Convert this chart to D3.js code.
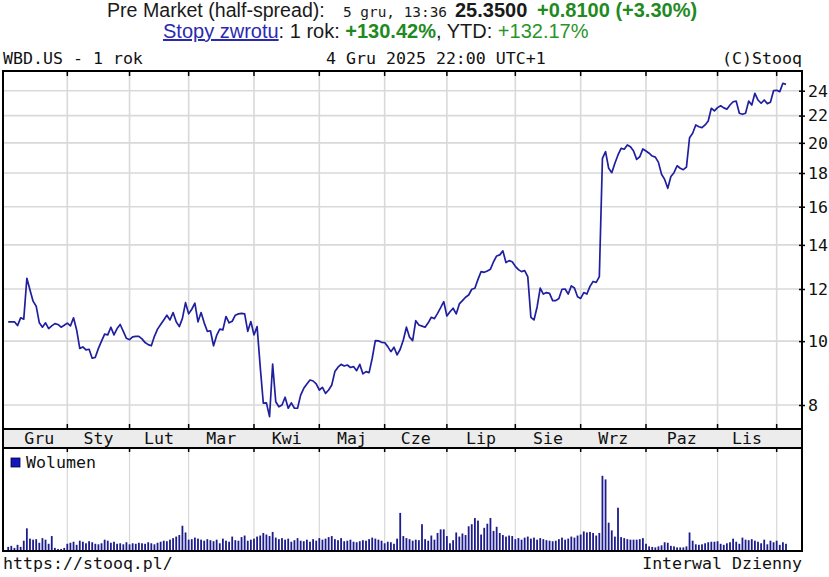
<!DOCTYPE html>
<html>
<head>
<meta charset="utf-8">
<script src="https://cdn.jsdelivr.net/npm/d3@7"></script>
<style>
  body { margin: 0; background: #fff; }
  svg text { font-family: "DejaVu Sans Mono", monospace; fill: #111; }
  .hdr { font-family: "Liberation Sans", Arial, sans-serif; }
</style>
</head>
<body>
<div id="chart"></div>
<script>
/*******************************/
/*            Data             */
/*******************************/

// daily close, 4 Dec 2024 .. 4 Dec 2025 (one value per session)
var closes = [
  10.70, 10.70, 10.70, 10.56, 10.85, 10.80, 12.46, 11.96, 11.50, 11.30,
  10.66, 10.50, 10.66, 10.45, 10.55, 10.63, 10.60, 10.50, 10.57, 10.65,
  10.55, 10.85, 10.40, 9.75, 9.80, 9.70, 9.72, 9.42, 9.45, 9.75,
  10.00, 10.25, 10.22, 10.50, 10.22, 10.45, 10.60, 10.35, 10.10, 10.05,
  10.15, 10.17, 10.17, 10.08, 9.95, 9.88, 9.84, 10.17, 10.43, 10.60,
  10.77, 10.95, 10.77, 11.05, 10.70, 10.52, 10.83, 11.44, 11.00, 11.18,
  11.42, 10.70, 11.05, 10.66, 10.35, 10.37, 9.84, 10.20, 10.43, 10.40,
  10.90, 10.66, 10.72, 10.95, 11.00, 11.02, 11.00, 10.35, 10.71, 10.22,
  10.52, 9.15, 8.05, 8.06, 7.68, 9.23, 8.09, 7.95, 8.00, 8.22,
  7.91, 8.06, 7.91, 7.91, 8.28, 8.48, 8.61, 8.73, 8.70, 8.61,
  8.43, 8.51, 8.33, 8.43, 8.58, 8.99, 9.13, 9.22, 9.17, 9.20,
  9.12, 9.15, 9.02, 9.22, 8.92, 8.99, 8.96, 9.42, 10.02, 10.01,
  9.96, 9.95, 9.81, 9.64, 9.79, 9.53, 9.72, 10.04, 10.50, 10.14,
  10.02, 10.74, 10.58, 10.54, 10.50, 10.66, 10.87, 10.82, 11.02, 11.24,
  11.48, 10.92, 11.08, 11.22, 11.00, 11.39, 11.52, 11.66, 11.75, 11.99,
  12.03, 12.41, 12.75, 12.72, 12.78, 12.86, 13.20, 13.47, 13.52, 13.71,
  13.16, 13.25, 13.20, 12.99, 12.84, 12.75, 12.80, 12.53, 10.87, 10.77,
  11.27, 12.04, 11.79, 11.85, 11.82, 11.52, 11.52, 11.61, 11.99, 12.00,
  11.79, 12.13, 12.04, 11.68, 11.61, 11.85, 11.79, 12.11, 12.32, 12.28,
  12.53, 18.95, 19.39, 18.30, 18.02, 18.62, 19.17, 19.62, 19.56, 19.85,
  19.73, 19.44, 18.88, 19.05, 19.58, 19.44, 19.29, 19.10, 19.03, 18.68,
  17.92, 17.60, 17.06, 17.78, 18.02, 18.46, 18.30, 18.21, 18.37, 20.36,
  20.68, 21.29, 21.16, 21.09, 21.29, 21.59, 22.57, 22.36, 22.62, 22.77,
  22.60, 22.50, 22.83, 23.09, 23.14, 22.18, 22.10, 22.18, 23.14, 22.83,
  23.78, 23.23, 22.97, 23.23, 22.94, 23.05, 24.00, 24.03, 23.92, 24.63,
  24.54
];

// daily volume, millions
var volumes = [
  16, 20, 12, 24, 16, 40, 88, 48, 44, 46, 32, 50, 44, 28, 58, 12, 8, 8, 12,
  28, 32, 36, 24, 40, 36, 30, 38, 34, 28, 26, 30, 44, 40, 32, 36, 28, 30, 26, 34,
  26, 30, 28, 32, 30, 28, 34, 30, 26, 32, 36, 40, 38, 44, 50, 56, 62, 98, 72,
  44, 46, 52, 48, 44, 40, 46, 42, 38, 44, 30, 48, 40, 36, 56, 42, 40, 54, 60, 40, 44,
  48, 56, 60, 70, 64, 58, 74, 52, 46, 50, 44, 48, 36, 42, 50, 40, 38, 44, 36, 46, 40,
  50, 44, 48, 54, 58, 46, 42, 50, 38, 40, 44, 36, 34, 38, 42, 40, 46, 52, 48, 44, 40,
  30, 36, 34, 28, 48, 148, 58, 50, 46, 40, 44, 42, 104, 46, 40, 60, 44, 70, 84, 84,
  58, 30, 42, 72, 56, 68, 62, 96, 104, 128, 118, 64, 90, 106, 128, 78, 94, 70, 62, 56, 60, 58,
  46, 50, 44, 52, 56, 48, 52, 44, 50, 46, 42, 40, 38, 40, 46, 52, 44, 48, 56, 52, 60,
  64, 76, 72, 74, 70, 60, 70, 292, 278, 110, 80, 56, 168, 54, 50, 46, 44, 44, 44, 46, 50,
  28, 18, 16, 14, 18, 22, 34, 32, 20, 18, 14, 14, 14, 18, 72, 40, 26, 24, 26, 30, 34, 36, 36,
  38, 28, 24, 30, 34, 48, 36, 28, 52, 44, 42, 46, 40, 36, 30, 44, 26, 40, 34,
  40, 24, 34, 28
];

// session index where each month begins (Sty .. Gru 2025)
var monthStarts = [19, 39, 58, 79, 100, 121, 141, 163, 184, 205, 228, 247];
var monthLabels = ["Gru", "Sty", "Lut", "Mar", "Kwi", "Maj", "Cze", "Lip", "Sie", "Wrz", "Paz", "Lis"];
var priceTicks  = [8, 10, 12, 14, 16, 18, 20, 22, 24];

/*******************************/
/*          Layout             */
/*******************************/

var width = 829, height = 577;
var left = 3, right = 802;
var priceTop = 71, priceBottom = 429, bandBottom = 448, volBottom = 551;

var x = d3.scaleLinear()
  .domain([0, closes.length - 1])
  .range([8.2, 786]);

var y = d3.scaleLog()
  .domain([7.356, 25.71])
  .range([priceBottom, priceTop]);

var yVol = d3.scaleLinear()
  .domain([0, 400])
  .range([volBottom, bandBottom]);

var svg = d3.select("#chart").append("svg")
  .attr("width", width)
  .attr("height", height);

/*******************************/
/*           Header            */
/*******************************/

var h1 = svg.append("text").attr("class", "hdr").attr("y", 17);
h1.append("tspan").attr("x", 107).style("font-size", "19.6px").style("fill", "#1a1a1a")
  .text("Pre Market (half-spread):");
h1.append("tspan").attr("x", 343).style("font-family", "DejaVu Sans Mono, monospace")
  .style("font-size", "14.4px").style("fill", "#1a1a1a").text("5 gru, 13:36");
h1.append("tspan").attr("x", 455).style("font-size", "20px").style("font-weight", "bold")
  .style("fill", "#1a1a1a").text("25.3500");
h1.append("tspan").attr("x", 537).style("font-size", "20px").style("font-weight", "bold")
  .style("fill", "#1f8a1f").text("+0.8100 (+3.30%)");

var h2 = svg.append("text").attr("class", "hdr").attr("x", 163).attr("y", 38)
  .style("font-size", "20px");
h2.append("tspan").style("fill", "#2a2ab0").style("text-decoration", "underline").text("Stopy zwrotu");
h2.append("tspan").style("fill", "#1a1a1a").text(": 1 rok: ");
h2.append("tspan").style("fill", "#1f8a1f").style("font-weight", "bold").text("+130.42%");
h2.append("tspan").style("fill", "#1a1a1a").text(", YTD: ");
h2.append("tspan").style("fill", "#2a942a").text("+132.17%");

svg.append("text").attr("x", left).attr("y", 64).style("font-size", "16.6px").text("WBD.US - 1 rok");
svg.append("text").attr("x", 326).attr("y", 64).style("font-size", "16.6px").text("4 Gru 2025 22:00 UTC+1");
svg.append("text").attr("x", right).attr("y", 64).attr("text-anchor", "end")
  .style("font-size", "16.6px").text("(C)Stooq");

/*******************************/
/*          Gridlines          */
/*******************************/

var grid = svg.append("g").attr("stroke", "#d9d9d9").attr("stroke-width", 1.6);

grid.selectAll(".hgrid")
  .data(priceTicks)
  .enter()
  .append("line")
  .attr("x1", left).attr("x2", right)
  .attr("y1", function(d) { return y(d); })
  .attr("y2", function(d) { return y(d); });

grid.selectAll(".vgrid")
  .data(monthStarts)
  .enter()
  .append("line")
  .attr("x1", function(d) { return x(d); })
  .attr("x2", function(d) { return x(d); })
  .attr("y1", priceTop).attr("y2", priceBottom);

grid.selectAll(".vgrid-vol")
  .data(monthStarts)
  .enter()
  .append("line")
  .attr("stroke-width", 1.2)
  .attr("x1", function(d) { return x(d); })
  .attr("x2", function(d) { return x(d); })
  .attr("y1", bandBottom).attr("y2", volBottom);

/*******************************/
/*        Price and volume     */
/*******************************/

var line = d3.line()
  .x(function(d, i) { return x(i); })
  .y(function(d) { return y(d); });

svg.append("path")
  .datum(closes)
  .attr("fill", "none")
  .attr("stroke", "#1f1fa0")
  .attr("stroke-width", 1.7)
  .attr("stroke-linejoin", "round")
  .attr("d", line);

svg.append("g")
  .selectAll("rect")
  .data(volumes)
  .enter()
  .append("rect")
  .attr("x", function(d, i) { return x(i) - 0.9; })
  .attr("width", 1.8)
  .attr("y", function(d) { return yVol(d); })
  .attr("height", function(d) { return volBottom - yVol(d); })
  .attr("fill", "#1c1c8c");

// legend
svg.append("rect").attr("x", 11).attr("y", 458).attr("width", 9).attr("height", 9)
  .attr("fill", "#1414c0").attr("stroke", "#000033").attr("stroke-width", 0.8);
svg.append("text").attr("x", 26).attr("y", 468).style("font-size", "16.6px").text("Wolumen");

/*******************************/
/*     Frame and month band    */
/*******************************/

svg.append("rect")
  .attr("x", left).attr("y", priceBottom)
  .attr("width", right - left).attr("height", bandBottom - priceBottom)
  .attr("fill", "#ececec");

svg.append("rect")
  .attr("x", left).attr("y", priceTop)
  .attr("width", right - left).attr("height", volBottom - priceTop)
  .attr("fill", "none").attr("stroke", "#000").attr("stroke-width", 2);

[priceBottom, bandBottom].forEach(function(yy) {
  svg.append("line").attr("x1", left).attr("x2", right).attr("y1", yy).attr("y2", yy)
    .attr("stroke", "#000").attr("stroke-width", 2);
});

var ticks = svg.append("g").attr("stroke", "#000").attr("stroke-width", 1.5);
[[priceTop, priceTop + 5], [priceBottom - 5, priceBottom], [bandBottom, bandBottom + 4]].forEach(function(seg) {
  ticks.selectAll(null)
    .data(monthStarts)
    .enter()
    .append("line")
    .attr("x1", function(d) { return x(d); })
    .attr("x2", function(d) { return x(d); })
    .attr("y1", seg[0]).attr("y2", seg[1]);
});

// first month label sits a bit right of the chart start
var bounds = [1].concat(monthStarts);
svg.append("g")
  .selectAll("text")
  .data(monthLabels)
  .enter()
  .append("text")
  .attr("x", function(d, i) { return (x(bounds[i]) + x(bounds[i + 1])) / 2; })
  .attr("y", 444)
  .attr("text-anchor", "middle")
  .style("font-size", "16.6px")
  .text(function(d) { return d; });

/*******************************/
/*           Y axis            */
/*******************************/

var yAxis = d3.axisRight(y)
  .tickValues(priceTicks)
  .tickFormat(d3.format("d"))
  .tickSize(3)
  .tickPadding(3);

var ya = svg.append("g")
  .attr("transform", "translate(" + right + ",0)")
  .call(yAxis);

ya.select(".domain").remove();
ya.selectAll(".tick line").attr("x1", -3).attr("stroke", "#000").attr("stroke-width", 1.5);
ya.selectAll(".tick text")
  .style("font-family", "DejaVu Sans Mono, monospace")
  .style("font-size", "16.6px")
  .attr("fill", "#111");

/*******************************/
/*           Footer            */
/*******************************/

svg.append("text").attr("x", left).attr("y", 569).style("font-size", "16.6px").text("https://stooq.pl/");
svg.append("text").attr("x", right).attr("y", 569).attr("text-anchor", "end")
  .style("font-size", "16.6px").text("Interwal Dzienny");
</script>
</body>
</html>
